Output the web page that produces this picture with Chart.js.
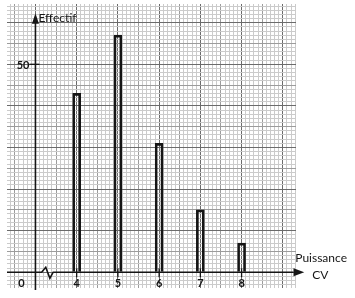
<!DOCTYPE html>
<html lang="fr">
<head>
    <meta charset="UTF-8">
    <title>Effectif par puissance</title>
    <!-- Chart.js -->
    <script src="https://cdn.jsdelivr.net/npm/chart.js"></script>
    <style>
        body { margin: 0; background: #fff; }
        canvas { display: block; }
    </style>
</head>
<body>
<canvas id="cvChart" width="355" height="298"></canvas>

<script>
    // Data
    const puissances = [4, 5, 6, 7, 8];       // Puissance (CV)
    const effectifs = [43, 57, 31, 15, 7];    // Effectif
    const yTickLabels = [50];
    const originLabel = "0";
    const yTitle = "Effectif";
    const xTitle = ["Puissance", "CV"];

    const ink = "#151515";
    const font = "Lato, 'Open Sans', sans-serif";

    // graph paper colours: fine / half / heavy lines
    function paperColor(v, step) {
        let n = Math.round(v / step);
        if (n % 10 === 0) return "#6b6b6b";
        if (n % 5 === 0) return "#9c9c9c";
        return "#cbcbcb";
    }

    // Axes with arrows, broken x axis, ticks and labels
    const axesPlugin = {
        id: "axesPlugin",
        afterDatasetsDraw(chart) {
            let c = chart.ctx;
            let xs = chart.scales.x, ys = chart.scales.y;
            let px = v => xs.getPixelForValue(v);
            let py = v => ys.getPixelForValue(v);
            let x0 = px(3), y0 = py(0);
            let xEnd = px(9.26), xTip = px(9.52);

            c.save();
            c.strokeStyle = ink;
            c.fillStyle = ink;
            c.lineWidth = 1.6;
            c.lineJoin = "miter";

            // x axis with the break (zigzag)
            c.beginPath();
            c.moveTo(chart.chartArea.left, y0);
            c.lineTo(px(3.15), y0);
            c.lineTo(px(3.25), py(1.2));
            c.lineTo(px(3.35), py(-1.45));
            c.lineTo(px(3.43), y0);
            c.lineTo(xEnd, y0);
            c.stroke();
            c.beginPath();
            c.moveTo(xTip, y0);
            c.lineTo(xEnd, y0 - 4);
            c.lineTo(xEnd, y0 + 4);
            c.closePath();
            c.fill();

            // y axis
            let yTip = py(62.3), yBase = py(60);
            c.beginPath();
            c.moveTo(x0, py(-4.3));
            c.lineTo(x0, yBase);
            c.stroke();
            c.beginPath();
            c.moveTo(x0, yTip);
            c.lineTo(x0 - 3.5, yBase + 1);
            c.lineTo(x0 + 3.5, yBase + 1);
            c.closePath();
            c.fill();

            // ticks
            c.lineWidth = 1.3;
            puissances.forEach(v => {
                c.beginPath();
                c.moveTo(px(v), y0 - 4);
                c.lineTo(px(v), y0 + 5);
                c.stroke();
            });
            yTickLabels.forEach(v => {
                c.beginPath();
                c.moveTo(x0 - 6, py(v));
                c.lineTo(x0 + 4, py(v));
                c.stroke();
            });

            // labels
            c.font = "bold 11px " + font;
            c.textAlign = "center";
            c.textBaseline = "middle";
            puissances.forEach(v => c.fillText(String(v), px(v), y0 + 11.5));
            c.fillText(originLabel, x0 - 14, y0 + 11.5);
            c.textAlign = "right";
            yTickLabels.forEach(v => c.fillText(String(v), x0 - 6, py(v) + 1));

            c.font = "12px " + font;
            c.textAlign = "left";
            c.fillText(yTitle, x0 + 3, py(61.2));
            c.fillText(xTitle[0], xTip - 9, py(3.3));
            c.textAlign = "center";
            c.fillText(xTitle[1], xTip + 16, py(-0.8));
            c.restore();
        }
    };

    let ctx = document.getElementById("cvChart").getContext("2d");
    let cvChart = new Chart(ctx, {
        type: "bar",
        data: {
            datasets: [{
                label: "Effectif",
                data: puissances.map((p, i) => ({ x: p, y: effectifs[i] })),
                backgroundColor: "rgba(255,255,255,0)",
                borderColor: ink,
                borderWidth: 2,
                borderSkipped: "start",
                barThickness: 8
            }]
        },
        options: {
            responsive: false,
            animation: false,
            layout: { padding: { left: 7, top: 4, right: 59, bottom: 10 } },
            plugins: {
                legend: { display: false },
                tooltip: { enabled: false }
            },
            scales: {
                x: {
                    type: "linear",
                    min: 2.31,
                    max: 9.32,
                    offset: false,
                    ticks: { display: false, stepSize: 0.1, includeBounds: false },
                    grid: {
                        offset: false,
                        drawTicks: false,
                        color: c => paperColor(c.tick.value, 0.1),
                        lineWidth: 1
                    },
                    border: { display: false }
                },
                y: {
                    min: -3.8,
                    max: 64.5,
                    ticks: { display: false, stepSize: 1, includeBounds: false },
                    grid: {
                        drawTicks: false,
                        color: c => paperColor(c.tick.value, 1),
                        lineWidth: 1
                    },
                    border: { display: false }
                }
            }
        },
        plugins: [axesPlugin]
    });
</script>
</body>
</html>
